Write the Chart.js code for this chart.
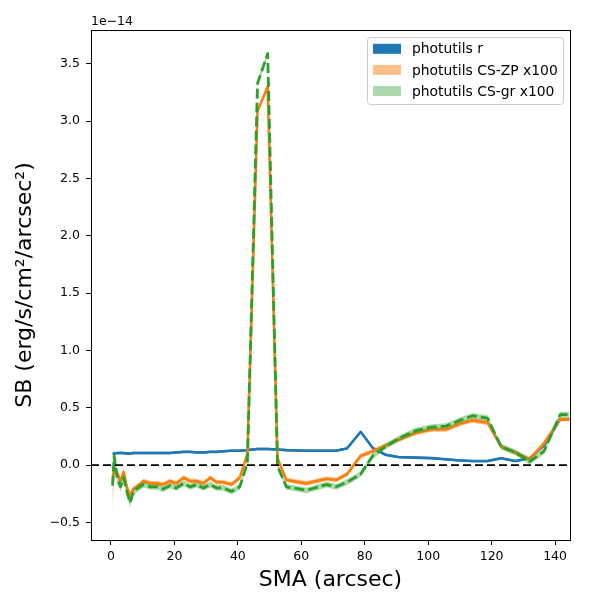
<!DOCTYPE html>
<html>
<head>
<meta charset="utf-8">
<script src="https://cdn.jsdelivr.net/npm/chart.js@4.4.0/dist/chart.umd.min.js"></script>
<style>
  html, body { margin: 0; padding: 0; background: #fff; }
  #wrap { width: 600px; height: 600px; }
</style>
</head>
<body>
<div id="wrap"><canvas id="myChart" width="600" height="600"></canvas></div>
<script>
// semi-major axis (arcsec)
const sma = [0.5, 1.0, 2.0, 3.0, 4.0, 5.0, 6.0, 7.0, 8.5, 10.3, 12.4, 14.5, 16.5, 18.5,
  20.6, 22.9, 25.0, 27.0, 29.1, 31.3, 33.3, 35.4, 38.0, 40.6, 43.0, 46.2, 49.4, 52.5, 55.3,
  61.6, 68.0, 71.0, 74.4, 78.7, 82.5, 86.5, 90.6, 96.0, 101.0, 105.6, 110.0, 114.0, 118.7,
  123.0, 127.5, 132.0, 136.5, 141.6, 144.5];

// surface brightness, units of 1e-14 erg/s/cm2/arcsec2
const sbR = [0.10, 0.10, 0.105, 0.105, 0.105, 0.10, 0.10, 0.105, 0.105, 0.105, 0.105, 0.105, 0.105, 0.105,
  0.11, 0.115, 0.115, 0.11, 0.11, 0.115, 0.115, 0.12, 0.125, 0.125, 0.13, 0.14, 0.14, 0.135, 0.13,
  0.125, 0.125, 0.125, 0.145, 0.29, 0.15, 0.09, 0.07, 0.065, 0.06, 0.05, 0.04, 0.035, 0.035,
  0.06, 0.035, 0.06, 0.17, 0.40, 0.40];
const errR = [0.01, 0.01, 0.01, 0.01, 0.01, 0.01, 0.01, 0.01, 0.01, 0.01, 0.01, 0.01, 0.01, 0.01,
  0.01, 0.01, 0.01, 0.01, 0.01, 0.01, 0.01, 0.01, 0.01, 0.01, 0.01, 0.01, 0.01, 0.01, 0.01,
  0.01, 0.01, 0.01, 0.01, 0.01, 0.01, 0.01, 0.01, 0.01, 0.01, 0.01, 0.01, 0.01, 0.01,
  0.01, 0.01, 0.01, 0.01, 0.01, 0.01];

const sbZP = [-0.15, -0.03, -0.07, -0.14, -0.06, -0.19, -0.27, -0.21, -0.18, -0.14, -0.16, -0.16, -0.17, -0.14,
  -0.16, -0.11, -0.14, -0.14, -0.16, -0.11, -0.15, -0.15, -0.17, -0.11, 0.10, 3.09, 3.30, 0.06, -0.13,
  -0.16, -0.12, -0.13, -0.08, 0.08, 0.12, 0.17, 0.22, 0.28, 0.31, 0.31, 0.36, 0.39, 0.37,
  0.16, 0.11, 0.05, 0.19, 0.40, 0.40];
const errZP = [0.15, 0.05, 0.03, 0.03, 0.03, 0.03, 0.03, 0.02, 0.02, 0.02, 0.02, 0.02, 0.02, 0.02,
  0.02, 0.02, 0.02, 0.02, 0.02, 0.02, 0.02, 0.02, 0.02, 0.02, 0.02, 0.02, 0.02, 0.02, 0.02,
  0.02, 0.02, 0.02, 0.02, 0.02, 0.02, 0.02, 0.02, 0.02, 0.02, 0.02, 0.02, 0.02, 0.02,
  0.02, 0.02, 0.02, 0.02, 0.02, 0.02];

const sbGR = [-0.18, 0.08, -0.12, -0.19, -0.11, -0.23, -0.33, -0.24, -0.20, -0.17, -0.19, -0.19, -0.21, -0.18,
  -0.20, -0.16, -0.19, -0.17, -0.20, -0.17, -0.20, -0.20, -0.23, -0.19, 0.02, 3.33, 3.59, -0.01, -0.19,
  -0.22, -0.17, -0.19, -0.15, -0.08, 0.08, 0.16, 0.23, 0.30, 0.33, 0.34, 0.39, 0.43, 0.41,
  0.16, 0.11, 0.03, 0.12, 0.44, 0.44];
const errGR = [0.27, 0.06, 0.04, 0.04, 0.04, 0.04, 0.04, 0.03, 0.03, 0.025, 0.025, 0.025, 0.025, 0.025,
  0.025, 0.025, 0.025, 0.025, 0.025, 0.025, 0.025, 0.025, 0.025, 0.025, 0.025, 0.025, 0.025, 0.025, 0.025,
  0.025, 0.025, 0.025, 0.025, 0.025, 0.025, 0.025, 0.025, 0.025, 0.025, 0.025, 0.025, 0.025, 0.025,
  0.025, 0.025, 0.025, 0.025, 0.025, 0.025];

const legendLabels = ['photutils r', 'photutils CS-ZP x100', 'photutils CS-gr x100'];
const xTicks = [0, 20, 40, 60, 80, 100, 120, 140];

const xMin = -6.3, xMax = 144.7;
const yMin = -0.654, yMax = 3.796;

const C0 = '#1f77b4', C1 = '#ff7f0e', C2 = '#2ca02c';

function pts(ys, sign, errs) {
  return sma.map((x, i) => ({ x: x, y: ys[i] + (errs ? sign * errs[i] : 0) }));
}

function band(ys, errs, color, order, target) {
  return [
    { data: pts(ys, 1, errs), borderColor: 'transparent', borderWidth: 0, pointRadius: 0,
      backgroundColor: color, fill: target, order: order },
    { data: pts(ys, -1, errs), borderColor: 'transparent', borderWidth: 0, pointRadius: 0,
      fill: false, order: order }
  ];
}

const datasets = [
  { data: [{ x: xMin, y: 0 }, { x: xMax, y: 0 }], borderColor: '#000', borderWidth: 1.8,
    borderDash: [8, 4], pointRadius: 0, fill: false, order: 0 },
  { data: pts(sbGR), borderColor: C2, borderWidth: 2.8, borderDash: [10, 4], pointRadius: 0,
    fill: false, order: 1 },
  ...band(sbGR, errGR, 'rgba(44,160,44,0.4)', 2, 3),
  { data: pts(sbZP), borderColor: C1, borderWidth: 2.6, pointRadius: 0, fill: false, order: 3 },
  ...band(sbZP, errZP, 'rgba(255,127,14,0.5)', 4, 6),
  { data: pts(sbR), borderColor: C0, borderWidth: 2.6, pointRadius: 0, fill: false, order: 5 },
  ...band(sbR, errR, C0, 6, 9)
];

const font = 'DejaVu Sans';

const framePlugin = {
  id: 'frame',
  afterDraw(chart) {
    const ctx = chart.ctx;
    const a = chart.chartArea;
    ctx.save();
    ctx.strokeStyle = '#000';
    ctx.lineWidth = 1;
    ctx.strokeRect(Math.round(a.left) + 0.5, Math.round(a.top) + 0.5,
      Math.round(a.right - a.left), Math.round(a.bottom - a.top));

    // offset text of the y axis
    ctx.fillStyle = '#000';
    ctx.font = '12.5px "' + font + '"';
    ctx.textAlign = 'left';
    ctx.textBaseline = 'alphabetic';
    ctx.fillText('1e\u221214', a.left, a.top - 5);

    // legend
    const bx = 367.5, by = 37.5, bw = 196, bh = 67;
    ctx.beginPath();
    ctx.roundRect(bx, by, bw, bh, 3);
    ctx.fillStyle = 'rgba(255,255,255,0.8)';
    ctx.fill();
    ctx.strokeStyle = '#cccccc';
    ctx.stroke();
    const fills = [C0, 'rgba(255,127,14,0.5)', 'rgba(44,160,44,0.4)'];
    ctx.font = '13.9px "' + font + '"';
    ctx.textBaseline = 'middle';
    legendLabels.forEach((lab, i) => {
      const cy = 48.8 + i * 21.1;
      ctx.fillStyle = fills[i];
      ctx.fillRect(373, cy - 5, 28, 10);
      ctx.fillStyle = '#000';
      ctx.fillText(lab, 412, cy + 1);
    });
    ctx.restore();
  }
};

const ctx = document.getElementById('myChart').getContext('2d');
const chart = new Chart(ctx, {
  type: 'line',
  data: { datasets: datasets },
  options: {
    responsive: false,
    animation: false,
    devicePixelRatio: 1,
    layout: { padding: { top: 30, right: 30, left: 0, bottom: 0 } },
    elements: { line: { tension: 0, borderJoinStyle: 'round', borderCapStyle: 'butt' } },
    scales: {
      x: {
        type: 'linear',
        min: xMin,
        max: xMax,
        afterFit(scale) { scale.height = 60; },
        afterBuildTicks(scale) { scale.ticks = xTicks.map(v => ({ value: v })); },
        ticks: {
          color: '#000',
          font: { family: font, size: 12.5 },
          padding: 4,
          maxRotation: 0,
          callback: v => String(v)
        },
        grid: { drawOnChartArea: false, drawTicks: true, tickLength: 5, color: '#000' },
        border: { display: true, color: '#000' },
        title: {
          display: true,
          text: 'SMA (arcsec)',
          color: '#000',
          font: { family: font, size: 22 },
          padding: { top: 0, bottom: 7 }
        }
      },
      y: {
        min: yMin,
        max: yMax,
        afterFit(scale) { scale.width = 91; },
        ticks: {
          stepSize: 0.5,
          includeBounds: false,
          color: '#000',
          font: { family: font, size: 12.5 },
          padding: 6,
          callback: v => v.toFixed(1).replace('-', '\u2212')
        },
        grid: { drawOnChartArea: false, drawTicks: true, tickLength: 5, color: '#000' },
        border: { display: true, color: '#000' },
        title: {
          display: true,
          text: 'SB (erg/s/cm\u00b2/arcsec\u00b2)',
          color: '#000',
          font: { family: font, size: 22 },
          padding: { top: 12, bottom: 0 }
        }
      }
    },
    plugins: {
      legend: { display: false },
      tooltip: { enabled: false }
    },
    events: []
  },
  plugins: [framePlugin]
});
</script>
</body>
</html>
